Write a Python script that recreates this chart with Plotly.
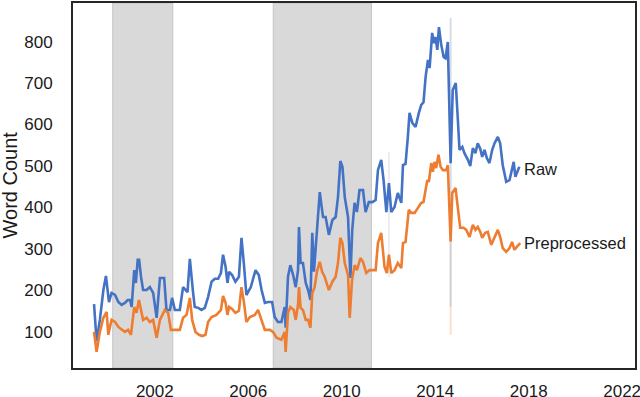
import plotly.graph_objects as go

# word counts (blue = raw, orange = preprocessed)
raw_years = [1999.40, 1999.51, 1999.65, 1999.80, 1999.91, 2000.04, 2000.15, 2000.30, 2000.44, 2000.58,
             2000.72, 2000.84, 2000.94, 2001.01, 2001.12, 2001.19, 2001.27, 2001.33, 2001.41, 2001.50,
             2001.65, 2001.79, 2001.93, 2002.08, 2002.22, 2002.40, 2002.50, 2002.65, 2002.74, 2002.86,
             2003.07, 2003.21, 2003.40, 2003.50, 2003.64, 2003.71, 2003.86, 2004.00, 2004.14, 2004.28,
             2004.43, 2004.57, 2004.71, 2004.83, 2004.92, 2005.03, 2005.11, 2005.18, 2005.31, 2005.45,
             2005.60, 2005.71, 2005.81, 2005.92, 2006.11, 2006.31, 2006.45, 2006.57, 2006.71, 2006.85,
             2007.02, 2007.13, 2007.27, 2007.42, 2007.56, 2007.60, 2007.70, 2007.80, 2007.92, 2008.03,
             2008.13, 2008.17, 2008.24, 2008.34, 2008.46, 2008.56, 2008.66, 2008.74, 2008.81, 2008.92,
             2008.98, 2009.06, 2009.13, 2009.20, 2009.31, 2009.45, 2009.60, 2009.74, 2009.84, 2009.94,
             2010.03, 2010.13, 2010.27, 2010.37, 2010.45, 2010.55, 2010.65, 2010.76, 2010.91, 2011.02,
             2011.16, 2011.31, 2011.45, 2011.55, 2011.69, 2011.79, 2011.91, 2012.02, 2012.12, 2012.26,
             2012.40, 2012.55, 2012.62, 2012.73, 2012.83, 2012.90, 2013.02, 2013.16, 2013.30, 2013.40,
             2013.50, 2013.59, 2013.69, 2013.76, 2013.87, 2013.94, 2014.01, 2014.09, 2014.16, 2014.26,
             2014.36, 2014.44, 2014.54, 2014.66, 2014.75, 2014.88, 2014.97, 2015.04, 2015.16, 2015.25,
             2015.40, 2015.50, 2015.61, 2015.72, 2015.82, 2015.93, 2016.01, 2016.11, 2016.21, 2016.32,
             2016.44, 2016.54, 2016.68, 2016.78, 2016.89, 2017.04, 2017.18, 2017.29, 2017.36, 2017.43,
             2017.53, 2017.60]
raw_counts = [167, 78, 129, 201, 235, 172, 194, 189, 172, 165,
              170, 177, 177, 160, 249, 218, 274, 274, 233, 201,
              201, 208, 194, 134, 230, 230, 153, 153, 182, 153,
              153, 208, 196, 276, 194, 160, 158, 153, 158, 184,
              221, 228, 228, 242, 286, 257, 218, 245, 237, 221,
              233, 327, 266, 189, 208, 249, 237, 201, 170, 172,
              172, 136, 124, 124, 160, 110, 233, 261, 237, 208,
              249, 353, 266, 266, 218, 201, 177, 339, 245, 329,
              394, 437, 406, 377, 377, 334, 370, 377, 425, 512,
              498, 425, 377, 230, 346, 411, 389, 442, 442, 389,
              413, 413, 418, 490, 515, 466, 389, 459, 389, 401,
              435, 411, 502, 505, 570, 628, 604, 594, 628, 647,
              654, 715, 756, 736, 821, 796, 811, 780, 835, 792,
              763, 760, 799, 507, 683, 700, 611, 539, 546, 531,
              515, 500, 543, 531, 555, 541, 522, 539, 519, 507,
              539, 555, 570, 555, 502, 462, 466, 498, 510, 474,
              486, 498]

pre_years = [1999.40, 1999.51, 1999.65, 1999.80, 1999.94, 2000.01, 2000.15, 2000.30, 2000.44, 2000.58,
             2000.72, 2000.86, 2000.98, 2001.12, 2001.22, 2001.32, 2001.41, 2001.50, 2001.65, 2001.79,
             2001.93, 2002.08, 2002.22, 2002.43, 2002.57, 2002.69, 2002.86, 2003.07, 2003.21, 2003.36,
             2003.50, 2003.60, 2003.74, 2003.89, 2004.03, 2004.17, 2004.28, 2004.43, 2004.64, 2004.83,
             2004.92, 2005.03, 2005.11, 2005.18, 2005.31, 2005.45, 2005.60, 2005.71, 2005.82, 2005.92,
             2006.07, 2006.28, 2006.42, 2006.57, 2006.71, 2006.92, 2007.06, 2007.21, 2007.42, 2007.56,
             2007.60, 2007.70, 2007.80, 2007.95, 2008.03, 2008.13, 2008.17, 2008.24, 2008.34, 2008.46,
             2008.56, 2008.66, 2008.74, 2008.84, 2008.94, 2009.06, 2009.16, 2009.27, 2009.45, 2009.60,
             2009.74, 2009.84, 2009.94, 2010.03, 2010.13, 2010.27, 2010.34, 2010.44, 2010.55, 2010.65,
             2010.80, 2010.91, 2011.05, 2011.19, 2011.45, 2011.55, 2011.69, 2011.83, 2011.93, 2012.02,
             2012.12, 2012.26, 2012.40, 2012.55, 2012.62, 2012.73, 2012.87, 2012.98, 2013.12, 2013.26,
             2013.40, 2013.50, 2013.59, 2013.66, 2013.73, 2013.83, 2013.90, 2013.97, 2014.04, 2014.14,
             2014.23, 2014.33, 2014.47, 2014.54, 2014.66, 2014.73, 2014.87, 2014.97, 2015.07, 2015.21,
             2015.33, 2015.47, 2015.61, 2015.72, 2015.82, 2015.93, 2016.01, 2016.14, 2016.25, 2016.40,
             2016.54, 2016.68, 2016.78, 2016.89, 2017.04, 2017.18, 2017.29, 2017.39, 2017.49, 2017.64]
pre_counts = [100, 52, 100, 134, 148, 93, 129, 124, 112, 105,
              100, 105, 93, 160, 146, 177, 153, 129, 134, 124,
              129, 86, 129, 153, 146, 105, 105, 105, 134, 141,
              182, 129, 100, 93, 90, 93, 124, 136, 141, 153,
              187, 170, 141, 160, 155, 146, 151, 208, 170, 124,
              136, 141, 153, 129, 105, 105, 100, 86, 81, 100,
              52, 146, 160, 153, 129, 165, 208, 158, 153, 129,
              129, 110, 194, 208, 245, 269, 245, 233, 201, 221,
              233, 266, 327, 314, 266, 237, 134, 225, 261, 249,
              278, 269, 242, 249, 249, 314, 339, 257, 242, 286,
              242, 249, 266, 254, 314, 317, 394, 387, 387, 399,
              411, 413, 442, 466, 462, 507, 486, 510, 495, 527,
              498, 490, 490, 502, 318, 435, 447, 401, 351, 351,
              346, 329, 358, 346, 353, 341, 327, 339, 341, 310,
              329, 346, 329, 302, 293, 302, 317, 298, 305, 314]

# grey bands
shade_start = [2000.2, 2007.07]
shade_end = [2002.77, 2011.27]

x_ticks = [2002, 2006, 2010, 2014, 2018, 2022]
y_ticks = [100, 200, 300, 400, 500, 600, 700, 800]

blue = "#4472C4"
orange = "#ED7D31"

fig = go.Figure()
fig.add_trace(go.Scatter(x=raw_years, y=raw_counts, mode="lines", name="Raw",
                         line=dict(color=blue, width=2.6)))
fig.add_trace(go.Scatter(x=pre_years, y=pre_counts, mode="lines", name="Preprocessed",
                         line=dict(color=orange, width=2.6)))

shapes = []
for s, e in zip(shade_start, shade_end):
    shapes.append(dict(type="rect", xref="x", yref="paper", x0=s, x1=e, y0=0, y1=1,
                       fillcolor="#d9d9d9", line=dict(color="#c4c4c4", width=1), layer="below"))

# faint vertical strokes left over in the original image
spike = 2014.66
shapes.append(dict(type="line", xref="x", yref="y", x0=spike, x1=spike, y0=857, y1=330,
                   line=dict(color="#d6dce8", width=2), layer="below"))
shapes.append(dict(type="line", xref="x", yref="y", x0=spike, x1=spike, y0=330, y1=160,
                   line=dict(color="#cfcfcf", width=2), layer="below"))
shapes.append(dict(type="line", xref="x", yref="y", x0=spike, x1=spike, y0=160, y1=93,
                   line=dict(color="#fbe0d0", width=2), layer="below"))
shapes.append(dict(type="line", xref="x", yref="y", x0=2012.02, x1=2012.02, y0=534, y1=233,
                   line=dict(color="#e6e6ee", width=1.5), layer="below"))

fig.update_layout(
    width=640, height=397,
    margin=dict(l=73, r=5, t=3, b=29, autoexpand=False),
    plot_bgcolor="white", paper_bgcolor="white",
    font=dict(family="Liberation Sans, Arial, sans-serif", color="#1a1a1a"),
    showlegend=False,
    shapes=shapes,
)
fig.update_xaxes(range=[1998.5, 2022.55], tickvals=x_ticks, showgrid=False, zeroline=False,
                 showline=True, mirror=True, linecolor="#262626", linewidth=2, automargin=False,
                 ticks="", ticklabelstandoff=7, ticklabeloverflow="allow", tickfont=dict(size=17))
fig.update_yaxes(range=[13, 893], tickvals=y_ticks, showgrid=False, zeroline=False,
                 showline=True, mirror=True, linecolor="#262626", linewidth=2, automargin=False,
                 ticks="", ticklabelstandoff=15, tickfont=dict(size=17))

fig.add_annotation(text="Word Count", xref="paper", yref="paper", x=0, y=0.5,
                   xshift=-64, textangle=-90, showarrow=False,
                   font=dict(size=20, color="#1a1a1a"), xanchor="center", yanchor="middle")
fig.add_annotation(text="Raw", xref="x", yref="y", x=raw_years[-1] + 0.12, y=493,
                   xanchor="left", yanchor="middle", showarrow=False,
                   font=dict(size=16.5, color="#1a1a1a"))
fig.add_annotation(text="Preprocessed", xref="x", yref="y", x=pre_years[-1] + 0.08, y=314,
                   xanchor="left", yanchor="middle", showarrow=False,
                   font=dict(size=16.5, color="#1a1a1a"))

# drop the browser's default body margin so the figure sits at the page corner
fig.write_html("out.html", config={"displayModeBar": False},
               post_script="document.body.style.margin = '0';")
